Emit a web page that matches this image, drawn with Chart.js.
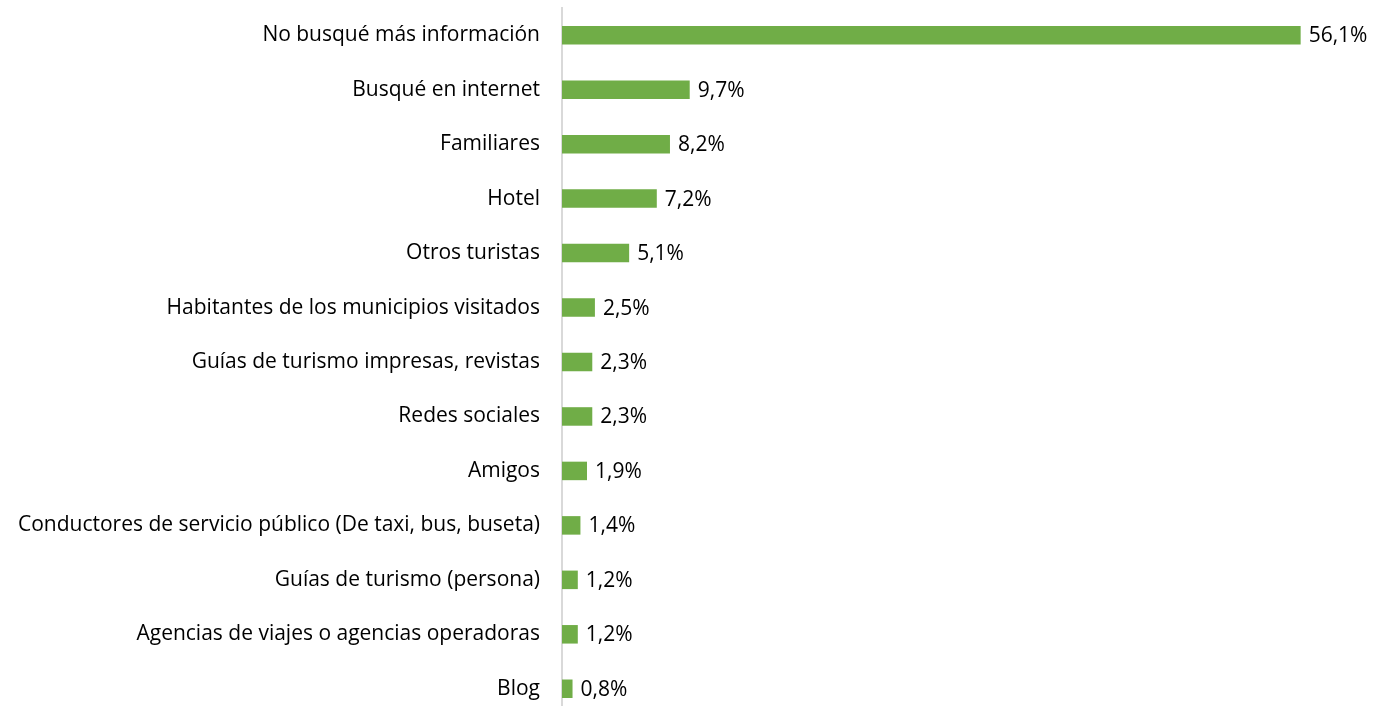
<!DOCTYPE html>
<html>
<head>
<meta charset="utf-8">
<script src="https://cdn.jsdelivr.net/npm/chart.js@4/dist/chart.umd.min.js"></script>
<style>
    html, body { margin: 0; padding: 0; background: #fff; overflow: hidden; }
    #wrap { position: relative; width: 1376px; height: 716px; }
</style>
</head>
<body>
<div id="wrap"><canvas id="fuentesChart" width="1376" height="716"></canvas></div>
<script>
const categories = [
    'No busqué más información',
    'Busqué en internet',
    'Familiares',
    'Hotel',
    'Otros turistas',
    'Habitantes de los municipios visitados',
    'Guías de turismo impresas, revistas',
    'Redes sociales',
    'Amigos',
    'Conductores de servicio público (De taxi, bus, buseta)',
    'Guías de turismo (persona)',
    'Agencias de viajes o agencias operadoras',
    'Blog'
];
const percentages = [56.1, 9.7, 8.2, 7.2, 5.1, 2.5, 2.3, 2.3, 1.9, 1.4, 1.2, 1.2, 0.8];

const fontFamily = '"Open Sans", "Liberation Sans", sans-serif';

// etiquetas de valor al final de cada barra
const valueLabels = {
    id: 'valueLabels',
    afterDatasetsDraw(chart) {
        const ctx = chart.ctx;
        const meta = chart.getDatasetMeta(0);
        ctx.save();
        ctx.font = '21px ' + fontFamily;
        ctx.fillStyle = '#000';
        ctx.textAlign = 'left';
        ctx.textBaseline = 'middle';
        meta.data.forEach((bar, i) => {
            const txt = percentages[i].toFixed(1).replace('.', ',') + '%';
            ctx.fillText(txt, bar.x + 8, bar.y + 1);
        });
        ctx.restore();
    }
};

function initChart() {
    const ctx = document.getElementById('fuentesChart').getContext('2d');
    new Chart(ctx, {
        type: 'bar',
        data: {
            labels: categories,
            datasets: [{
                data: percentages,
                backgroundColor: '#70ad47',
                borderWidth: 0,
                barPercentage: 0.34,
                categoryPercentage: 1
            }]
        },
        options: {
            indexAxis: 'y',
            responsive: false,
            animation: false,
            layout: { padding: { top: 8, right: 24, bottom: 0, left: 0 } },
            plugins: {
                legend: { display: false },
                tooltip: { enabled: false }
            },
            scales: {
                x: {
                    display: false,
                    min: 0,
                    max: 60
                },
                y: {
                    grid: { display: false, drawTicks: false },
                    border: { display: true, color: '#d9d9d9', width: 2 },
                    ticks: {
                        color: '#000',
                        padding: 22,
                        font: { family: fontFamily, size: 21 }
                    },
                    afterFit(scale) {
                        scale.width = 562;
                        scale.paddingTop = 0;
                        scale.paddingBottom = 0;
                    }
                }
            }
        },
        plugins: [valueLabels]
    });
}

document.addEventListener('DOMContentLoaded', initChart);
</script>
</body>
</html>
